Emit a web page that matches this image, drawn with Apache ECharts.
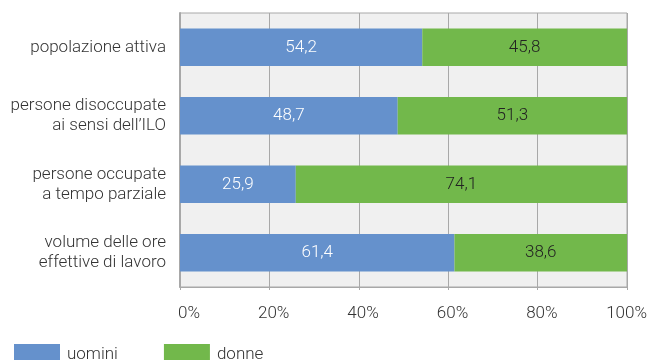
<!DOCTYPE html>
<html><head><meta charset="utf-8">
<script src="https://cdn.jsdelivr.net/npm/echarts@6/dist/echarts.min.js"></script>
<style>html,body{margin:0;padding:0;background:#fff}#c{width:650px;height:360px}</style>
</head><body><div id="c"></div>
<script>
const categories = ["popolazione attiva", "persone disoccupate\nai sensi dell’ILO", "persone occupate\na tempo parziale", "volume delle ore\neffettive di lavoro"];
const uomini = [54.2, 48.7, 25.9, 61.4];
const donne = [45.8, 51.3, 74.1, 38.6];
const seriesNames = ["uomini", "donne"];
const xTicks = [0, 20, 40, 60, 80, 100];

const FS = 17;
const fmt = v => v.toFixed(1).replace('.', ',');
const chart = echarts.init(document.getElementById('c'));
chart.setOption({
  animation: false,
  textStyle: { fontFamily: 'Roboto', fontWeight: 300 },
  grid: { left: 180, right: 22, top: 13, bottom: 73, show: true, backgroundColor: '#f0f0f0', borderColor: '#a8a8a8', borderWidth: 1 },
  legend: {
    left: 9, top: 339, itemWidth: 46, itemHeight: 21, itemGap: 46,
    icon: 'rect',
    textStyle: { fontSize: FS, color: '#333', fontFamily: 'Roboto', fontWeight: 300, padding: [0, 0, 0, 2] },
    data: seriesNames
  },
  xAxis: {
    type: 'value', min: 0, max: 100, interval: 20,
    axisLine: { show: true, lineStyle: { color: '#a8a8a8' } },
    axisTick: { show: true, length: 3, lineStyle: { color: '#a8a8a8' } },
    splitLine: { show: true, lineStyle: { color: '#a8a8a8' } },
    axisLabel: {
      margin: 18, fontSize: FS, color: '#333', fontFamily: 'Roboto', fontWeight: 300,
      formatter: v => xTicks.includes(v) ? '{a|' + v + '%}' : '',
      rich: { a: { width: 40, align: 'right', fontSize: FS, color: '#333', fontFamily: 'Roboto', fontWeight: 300 } }
    }
  },
  yAxis: {
    type: 'category', inverse: true, data: categories,
    axisLine: { show: true, lineStyle: { color: '#a8a8a8', width: 2 } },
    axisTick: { show: false },
    axisLabel: { margin: 14, fontSize: FS, lineHeight: 20, color: '#333', fontFamily: 'Roboto', fontWeight: 300 }
  },
  series: [
    { name: seriesNames[0], type: 'bar', stack: 't', data: uomini, barWidth: '55%',
      itemStyle: { color: '#6591cc' },
      label: { show: true, position: 'inside', color: '#fff', fontSize: FS, fontFamily: 'Roboto', fontWeight: 300, formatter: p => fmt(p.value) } },
    { name: seriesNames[1], type: 'bar', stack: 't', data: donne, barWidth: '55%',
      itemStyle: { color: '#72b84b' },
      label: { show: true, position: 'inside', color: '#222', fontSize: FS, fontFamily: 'Roboto', fontWeight: 300, formatter: p => fmt(p.value) } }
  ]
});
</script></body></html>
